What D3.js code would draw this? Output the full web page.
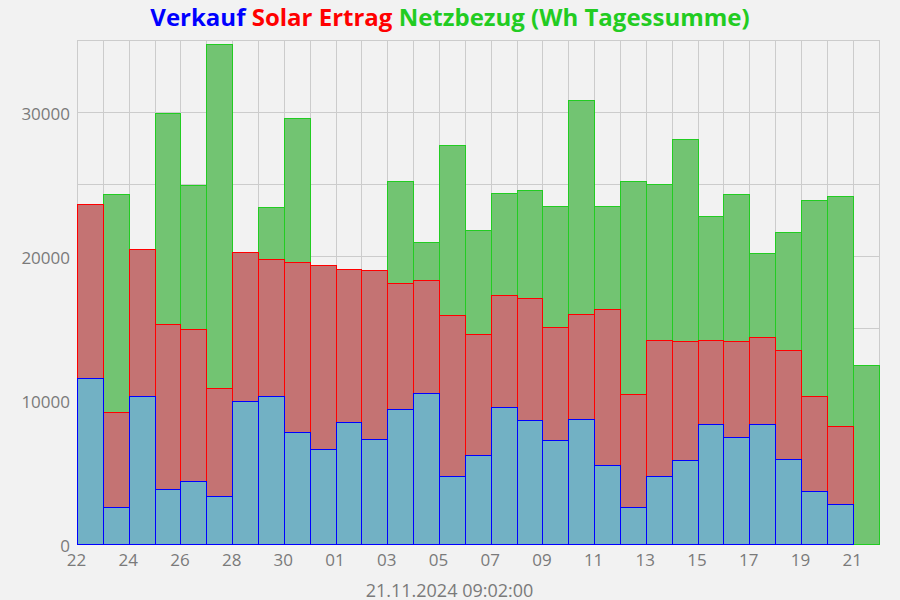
<!DOCTYPE html>
<html><head><meta charset="utf-8">
<script src="https://cdn.jsdelivr.net/npm/d3@7"></script>
<style>
html,body{margin:0;padding:0;background:#f2f2f2;}
svg{display:block;font-family:"Open Sans",sans-serif;}
</style></head>
<body>
<svg id="c" width="900" height="600"></svg>
<script>
const days = ["2024-10-22","2024-10-23","2024-10-24","2024-10-25","2024-10-26","2024-10-27","2024-10-28","2024-10-29","2024-10-30","2024-10-31",
"2024-11-01","2024-11-02","2024-11-03","2024-11-04","2024-11-05","2024-11-06","2024-11-07","2024-11-08","2024-11-09","2024-11-10",
"2024-11-11","2024-11-12","2024-11-13","2024-11-14","2024-11-15","2024-11-16","2024-11-17","2024-11-18","2024-11-19","2024-11-20","2024-11-21"];
const netzbezug = [20000,24300,18000,29900,24900,34700,17000,23400,29600,18000,17000,18000,25200,21000,27700,21800,24400,24600,23500,30800,23500,25200,25000,28100,22800,24300,20200,21700,23900,24200,12400];
const solarErtrag = [23600,9200,20500,15300,14900,10800,20300,19800,19600,19400,19100,19000,18100,18300,15900,14600,17300,17100,15100,16000,16300,10400,14200,14100,14200,14100,14400,13500,10300,8200,0];
const verkauf = [11500,2600,10300,3800,4400,3300,9900,10300,7800,6600,8500,7300,9400,10500,4700,6200,9500,8600,7200,8700,5500,2600,4700,5800,8300,7400,8300,5900,3700,2800,0];
const xTickDays = ["2024-10-22","2024-10-24","2024-10-26","2024-10-28","2024-10-30","2024-11-01","2024-11-03","2024-11-05","2024-11-07","2024-11-09","2024-11-11","2024-11-13","2024-11-15","2024-11-17","2024-11-19","2024-11-21"];
const yTicks = [0,10000,20000,30000];
const yGrid = [5000,10000,15000,20000,25000,30000];
const stampText = "21.11.2024 09:02:00";

const parse = d3.utcParse("%Y-%m-%d");
const dayDates = days.map(parse);
const endDate = d3.utcDay.offset(dayDates[dayDates.length-1], 1);

const svg = d3.select("#c");
const L = 77, R = 878.5, T = 40, B = 544;
const x = d3.scaleUtc().domain([dayDates[0], endDate]).range([L, R]);
const y = d3.scaleLinear().domain([0, 35000]).range([B, T]);

// grid
const g = svg.append("g");
g.selectAll(".vg").data(dayDates.concat([endDate])).join("line")
  .attr("x1", d => Math.round(x(d)) + 0.5).attr("x2", d => Math.round(x(d)) + 0.5)
  .attr("y1", T).attr("y2", B).attr("stroke", "#cccccc").attr("stroke-width", 1);
g.selectAll(".hg").data(yGrid.concat([35000])).join("line")
  .attr("x1", L).attr("x2", Math.round(R) + 0.5)
  .attr("y1", d => Math.round(y(d)) + 0.5).attr("y2", d => Math.round(y(d)) + 0.5)
  .attr("stroke", "#cccccc").attr("stroke-width", 1);

const rows = dayDates.map((d, i) => ({d, n: netzbezug[i], s: solarErtrag[i], v: verkauf[i]}));
function bars(key, fill, stroke) {
  svg.append("g").selectAll("rect").data(rows).join("rect")
    .attr("x", r => Math.round(x(r.d)) + 0.5)
    .attr("width", r => Math.round(x(d3.utcDay.offset(r.d, 1))) - Math.round(x(r.d)))
    .attr("y", r => Math.round(y(r[key])) + 0.5)
    .attr("height", r => Math.round(y(0)) - Math.round(y(r[key])))
    .attr("fill", fill).attr("stroke", stroke).attr("stroke-width", 1);
}
bars("n", "#72c472", "#22cc22");
bars("s", "#c47373", "#ff0000");
bars("v", "#72b1c4", "#0000ff");

// axes
const xAxis = d3.axisBottom(x).tickValues(xTickDays.map(parse)).tickFormat(d3.utcFormat("%d")).tickSize(0).tickPadding(10);
const ax = svg.append("g").attr("transform", `translate(-1,${B})`).call(xAxis);
ax.select(".domain").remove();
ax.selectAll("text").attr("font-size", 17).attr("fill", "#7a7a7a").attr("font-family", "Open Sans");

const yAxis = d3.axisLeft(y).tickValues(yTicks).tickFormat(d3.format("d")).tickSize(0).tickPadding(7);
const ay = svg.append("g").attr("transform", `translate(${L},2)`).call(yAxis);
ay.select(".domain").remove();
ay.selectAll("text").attr("font-size", 17).attr("fill", "#7a7a7a").attr("font-family", "Open Sans");

svg.append("text").attr("x", 449.5).attr("y", 597).attr("text-anchor", "middle")
  .attr("font-size", 18).attr("fill", "#7a7a7a").text(stampText);

// title
const titleParts = [["Verkauf ", "#0000ff"], ["Solar Ertrag ", "#ff0000"], ["Netzbezug (Wh Tagessumme)", "#22cc22"]];
const t = svg.append("text").attr("x", 450).attr("y", 26).attr("text-anchor", "middle")
  .attr("font-size", 24).attr("font-weight", "bold");
t.selectAll("tspan").data(titleParts).join("tspan").attr("fill", d => d[1]).text(d => d[0]);
</script>
</body></html>
